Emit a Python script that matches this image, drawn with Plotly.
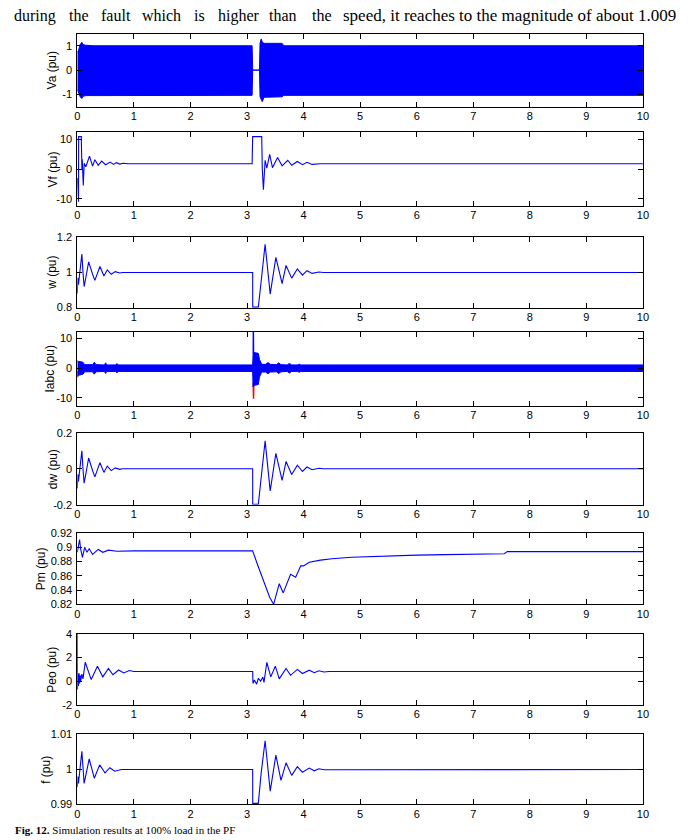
import plotly.graph_objects as go

# ---------------- data ----------------
# Va envelope (dense 50 Hz waveform drawn as a band)
va_t = [0, 0.02, 0.05, 0.08, 0.1, 0.15, 0.3, 1.0, 2.0, 3.09, 3.1, 3.22, 3.23, 3.25, 3.27, 3.3, 3.62, 3.65, 5.0, 7.0, 10.0]
va_upper = [0.75, 0.8, 1.05, 1.14, 1.05, 1.02, 1.0, 1.0, 1.0, 1.0, 0.0, 0.0, 1.1, 1.28, 1.15, 1.1, 1.1, 1.0, 1.0, 1.0, 1.0]
va_lower = [-0.8, -0.9, -1.1, -1.17, -1.08, -1.05, -1.04, -1.04, -1.04, -1.04, 0.0, 0.0, -1.1, -1.2, -1.3, -1.12, -1.1, -1.04, -1.04, -1.04, -1.04]

# Vf
vf_t = [0, 0.012, 0.021, 0.023, 0.07, 0.081, 0.087, 0.105, 0.122, 0.151, 0.215, 0.27, 0.31, 0.37, 0.43, 0.5, 0.58, 0.64, 0.69, 0.75, 0.81, 0.9,
        3.09, 3.1, 3.18, 3.26, 3.27, 3.29, 3.32, 3.35, 3.40, 3.45, 3.54, 3.62, 3.72, 3.79, 3.89, 3.98, 4.06, 4.15, 4.3, 10]
vf = [-3, -11, -11, 11, 11, 0, 3.3, -5.5, 2, 0.8, 4.4, 1.0, 3.2, 1.3, 2.7, 1.5, 2.4, 1.6, 2.2, 1.7, 2.0, 1.8,
      1.8, 11, 11, 11, 0, -7, 3, 0.3, 5, 0.5, 3.9, 1.1, 3, 1.3, 2.6, 1.5, 2.3, 1.6, 1.8, 1.8]

# w
w_t = [0, 0.01, 0.02, 0.04, 0.06, 0.08, 0.1, 0.12, 0.15, 0.2, 0.27, 0.31, 0.4, 0.47, 0.53, 0.6, 0.67, 0.75, 0.8,
       3.1, 3.101, 3.2, 3.25, 3.32, 3.41, 3.51, 3.62, 3.69, 3.79, 3.89, 3.98, 4.06, 4.15, 4.27, 4.35, 10]
w = [0.88, 0.97, 0.93, 1.0, 1.05, 1.105, 1.0, 0.92, 0.97, 1.06, 0.99, 0.955, 1.034, 0.98, 1.015, 0.99, 1.005, 0.997, 1.0,
     1.0, 0.803, 0.803, 0.95, 1.16, 0.877, 1.086, 0.936, 1.04, 0.968, 1.02, 0.985, 1.01, 0.995, 1.003, 1.0, 1.0]

# Iabc envelopes (dense three-phase currents drawn as bands)
ia_t = [0, 0.02, 0.1, 0.13, 0.27, 0.3, 0.33, 0.48, 0.5, 0.52, 0.68, 0.7, 0.72, 1.0, 2.0, 3.0, 3.1, 3.12, 3.2, 3.22, 3.26,
        3.33, 3.37, 3.41, 3.52, 3.56, 3.6, 3.71, 3.75, 3.79, 3.9, 3.92, 3.95, 4.5, 6.0, 8.0, 10.0]
ia_upper = [2.5, 2.3, 2.0, 1.2, 1.2, 2.0, 1.2, 1.1, 1.8, 1.1, 1.1, 1.6, 1.1, 1.1, 1.1, 1.1, 1.1, 5.3, 5.0, 3.0, 1.3,
            1.3, 1.9, 1.3, 1.2, 1.8, 1.2, 1.1, 1.6, 1.1, 1.1, 1.4, 1.1, 1.1, 1.1, 1.1, 1.1]
ia_lower = [-2.6, -2.4, -2.0, -1.2, -1.2, -2.0, -1.2, -1.1, -1.8, -1.1, -1.1, -1.6, -1.1, -1.1, -1.1, -1.1, -1.1, -5.8, -5.5, -3.0, -1.3,
            -1.3, -1.9, -1.3, -1.2, -1.8, -1.2, -1.1, -1.6, -1.1, -1.1, -1.4, -1.1, -1.1, -1.1, -1.1, -1.1]
ia_spike_t = [3.108, 3.112, 3.116]
ia_spike_blue = [-6.3, 12.5, 3.0]
ia_red_t = [0.0, 0.006, 0.012, None, 3.110, 3.115, 3.120]
ia_red = [-1.0, -3.0, -1.0, None, -5.0, -10.3, -5.0]

# dw
dw_t = [0, 0.01, 0.02, 0.04, 0.06, 0.08, 0.1, 0.12, 0.15, 0.2, 0.27, 0.31, 0.4, 0.47, 0.53, 0.6, 0.67, 0.75, 0.8,
        3.1, 3.101, 3.2, 3.25, 3.32, 3.41, 3.51, 3.62, 3.69, 3.79, 3.89, 3.98, 4.06, 4.15, 4.27, 4.35, 10]
dw = [-0.11, -0.03, -0.07, 0.0, 0.05, 0.1, 0.0, -0.08, -0.03, 0.06, -0.01, -0.045, 0.034, -0.02, 0.015, -0.01, 0.005, -0.003, 0.0,
      0.0, -0.197, -0.197, -0.05, 0.155, -0.123, 0.086, -0.064, 0.04, -0.032, 0.02, -0.015, 0.01, -0.005, 0.003, 0.0, 0.0]

# Pm
pm_t = [0, 0.04, 0.06, 0.09, 0.13, 0.17, 0.21, 0.27, 0.37, 0.45, 0.55, 0.7, 1.0, 3.1, 3.18, 3.3, 3.4, 3.47, 3.57, 3.64,
        3.77, 3.86, 3.95, 4.0, 4.1, 4.3, 4.5, 4.85, 5.5, 6.0, 6.5, 7.0, 7.55, 7.6, 10]
pm = [0.893, 0.911, 0.897, 0.886, 0.9, 0.893, 0.898, 0.890, 0.897, 0.893, 0.896, 0.8945, 0.895, 0.895, 0.877, 0.85, 0.83, 0.82, 0.849, 0.836,
      0.862, 0.858, 0.874, 0.874, 0.879, 0.882, 0.884, 0.886, 0.888, 0.889, 0.8898, 0.8905, 0.891, 0.894, 0.894]

# Peo
peo_t = [0, 0.003, 0.01, 0.02, 0.03, 0.04, 0.05, 0.06, 0.08, 0.1, 0.14, 0.245, 0.355, 0.45, 0.55, 0.63, 0.73, 0.82, 0.92, 1.0,
         3.1, 3.105, 3.13, 3.17, 3.2, 3.24, 3.28, 3.3, 3.35, 3.42, 3.5, 3.57, 3.69, 3.77, 3.89, 3.98, 4.1, 4.19, 4.27, 4.36, 4.45, 10]
peo = [4.0, -0.7, 0.6, -0.4, 0.7, -0.2, 0.5, 0.0, 0.6, 0.2, 1.6, 0.14, 1.27, 0.37, 1.07, 0.55, 0.95, 0.7, 0.9, 0.82,
       0.82, -0.2, 0.1, -0.25, 0.25, 0.0, 0.35, -0.1, 1.6, 0.37, 1.27, 0.2, 1.07, 0.5, 1.0, 0.65, 0.93, 0.72, 0.88, 0.78, 0.82, 0.82]

# f
f_t = [0, 0.01, 0.02, 0.04, 0.06, 0.08, 0.12, 0.21, 0.30, 0.395, 0.49, 0.575, 0.66, 0.78,
       3.1, 3.101, 3.2, 3.25, 3.32, 3.41, 3.51, 3.6, 3.69, 3.79, 3.89, 3.98, 4.1, 4.19, 4.27, 4.36, 10]
f = [0.995, 0.998, 0.996, 0.9995, 1.002, 1.0052, 0.996, 1.003, 0.9975, 1.0013, 0.999, 1.0005, 0.9995, 1.0,
     1.0, 0.9903, 0.9903, 0.999, 1.0082, 0.9938, 1.0041, 0.9969, 1.0019, 0.9983, 1.0008, 0.9992, 1.0004, 0.9996, 1.0002, 0.9999, 1.0]

x_ticks = [0, 1, 2, 3, 4, 5, 6, 7, 8, 9, 10]
y_titles = ["Va (pu)", "Vf (pu)", "w (pu)", "Iabc (pu)", "dw (pu)", "Pm (pu)", "Peo (pu)", "f (pu)"]
y_tickvals = [[-1, 0, 1], [-10, 0, 10], [0.8, 1.0, 1.2], [-10, 0, 10], [-0.2, 0, 0.2],
              [0.82, 0.84, 0.86, 0.88, 0.9, 0.92], [-2, 0, 2, 4], [0.99, 1.0, 1.01]]
y_ticktext = [["-1", "0", "1"], ["-10", "0", "10"], ["0.8", "1", "1.2"], ["-10", "0", "10"], ["-0.2", "0", "0.2"],
              ["0.82", "0.84", "0.86", "0.88", "0.9", "0.92"], ["-2", "0", "2", "4"], ["0.99", "1", "1.01"]]
y_ranges = [[-1.5, 1.5], [-12.5, 12.5], [0.8, 1.2], [-12.8, 12.2], [-0.2, 0.2], [0.82, 0.92], [-2, 4], [0.99, 1.01]]

header_left = ["during", "the", "fault", "which", "is", "higher", "than", "the"]
header_right = "speed, it reaches to the magnitude of about 1.009"
caption_bold = "Fig. 12."
caption_text = " Simulation results at 100% load in the PF"

# ---------------- layout geometry (pixels) ----------------
W, H = 700, 840
tops = [28, 128, 234.7, 330.7, 433, 534.7, 637, 739]
bots = [102, 203, 306, 406, 506, 607, 709, 810]
x0px, x1px = 75.3, 648.3
title_x = [50, 51, 50, 48, 50, 38, 50, 44]

BLUE = "#0000ff"
RED = "#ff0000"
FONT = "Liberation Sans"

fig = go.Figure()


def env_poly(t, up, lo):
    return list(t) + list(reversed(t)), list(up) + list(reversed(lo))


# Va band
px, py = env_poly(va_t, va_upper, va_lower)
fig.add_trace(go.Scatter(x=px, y=py, fill="toself", fillcolor=BLUE, mode="lines",
                         line=dict(color=BLUE, width=1), xaxis="x", yaxis="y", hoverinfo="skip"))

line_kw = dict(mode="lines", line=dict(color=BLUE, width=1.1))
fig.add_trace(go.Scatter(x=vf_t, y=vf, xaxis="x2", yaxis="y2", **line_kw))
fig.add_trace(go.Scatter(x=w_t, y=w, xaxis="x3", yaxis="y3", **line_kw))

# Iabc bands
px, py = env_poly(ia_t, ia_upper, ia_lower)
fig.add_trace(go.Scatter(x=ia_red_t, y=ia_red, mode="lines", line=dict(color=RED, width=1.5),
                         connectgaps=False, xaxis="x4", yaxis="y4"))
fig.add_trace(go.Scatter(x=px, y=py, fill="toself", fillcolor=BLUE, mode="lines",
                         line=dict(color=BLUE, width=1), xaxis="x4", yaxis="y4"))
fig.add_trace(go.Scatter(x=ia_spike_t, y=ia_spike_blue, mode="lines", line=dict(color=BLUE, width=1.5),
                         xaxis="x4", yaxis="y4"))

fig.add_trace(go.Scatter(x=dw_t, y=dw, xaxis="x5", yaxis="y5", **line_kw))
fig.add_trace(go.Scatter(x=pm_t, y=pm, xaxis="x6", yaxis="y6", **line_kw))
fig.add_trace(go.Scatter(x=peo_t, y=peo, xaxis="x7", yaxis="y7", **line_kw))
fig.add_trace(go.Scatter(x=f_t, y=f, xaxis="x8", yaxis="y8", **line_kw))

layout = dict(width=W, height=H, margin=dict(l=0, r=0, t=0, b=0), showlegend=False,
              paper_bgcolor="white", plot_bgcolor="white",
              font=dict(family=FONT, size=11, color="black"))

annotations = []
for i in range(8):
    n = "" if i == 0 else str(i + 1)
    yd = [1 - bots[i] / H, 1 - tops[i] / H]
    layout["xaxis" + n] = dict(domain=[x0px / W, x1px / W], range=[0, 10], tickvals=x_ticks,
                               ticks="inside", ticklen=5, tickcolor="black", mirror="ticks",
                               showline=True, linecolor="black", linewidth=1, showgrid=False,
                               zeroline=False, anchor="y" + n, tickfont=dict(family=FONT, size=11),
                               ticklabelstandoff=-1)
    layout["yaxis" + n] = dict(domain=yd, range=y_ranges[i], tickvals=y_tickvals[i], ticktext=y_ticktext[i],
                               ticks="inside", ticklen=5, tickcolor="black", mirror="ticks",
                               showline=True, linecolor="black", linewidth=1, showgrid=False,
                               zeroline=False, anchor="x" + n, tickfont=dict(family=FONT, size=11),
                               ticklabelstandoff=2)
    annotations.append(dict(text=y_titles[i], xref="paper", yref="paper", x=title_x[i] / W,
                            y=1 - (tops[i] + bots[i]) / 2 / H, textangle=-90, showarrow=False,
                            xanchor="center", yanchor="middle", font=dict(family=FONT, size=12)))

left_x = [9, 65, 97, 139, 191, 216, 267, 311]
for word, xp in zip(header_left, left_x):
    annotations.append(dict(text=word, xref="paper", yref="paper", x=xp / W, y=1 - 10 / H,
                            xanchor="left", yanchor="middle", showarrow=False,
                            font=dict(family="Liberation Serif", size=16)))
annotations.append(dict(text=header_right, xref="paper", yref="paper", x=342 / W, y=1 - 10 / H,
                        xanchor="left", yanchor="middle", showarrow=False,
                        font=dict(family="Liberation Serif", size=17)))
annotations.append(dict(text="<b>" + caption_bold + "</b>" + caption_text, xref="paper", yref="paper",
                        x=10 / W, y=1 - 828 / H, xanchor="left", yanchor="top", showarrow=False,
                        font=dict(family="Liberation Serif", size=11)))
layout["annotations"] = annotations
fig.update_layout(**layout)
fig.write_html("out.html")
